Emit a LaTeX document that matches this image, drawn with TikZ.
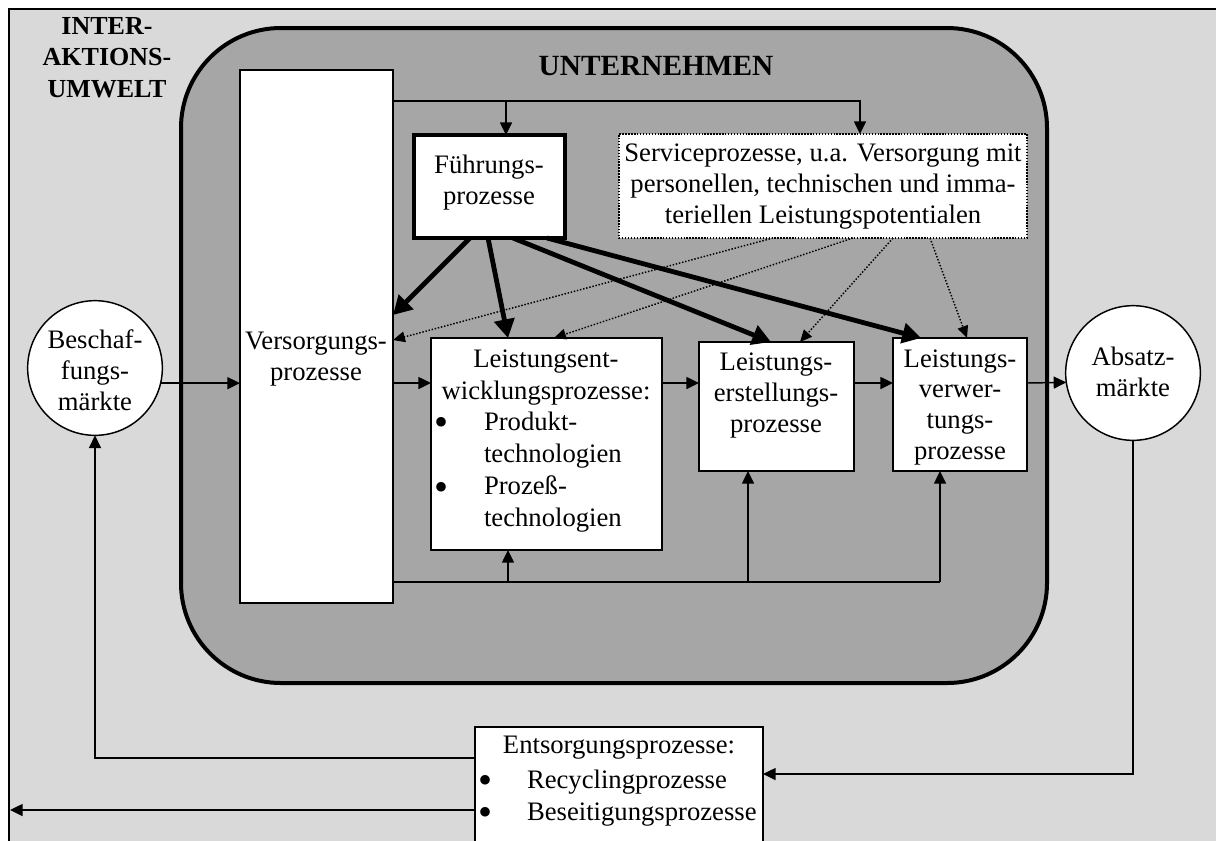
\documentclass[tikz,border=0pt]{standalone}
\usepackage{fontspec}
\setmainfont{Liberation Serif}
\usetikzlibrary{arrows.meta,fit}
\definecolor{envgray}{gray}{0.85}
\definecolor{firmgray}{gray}{0.65}

\begin{document}
\begin{tikzpicture}[x=0.75pt,y=-0.75pt,
  every node/.style={inner sep=0pt, outer sep=0pt},
  % multi-line texts are placed by the baseline of their last line
  txt/.style={font=\fontsize{20}{23}\selectfont, align=center, anchor=base},
  listtxt/.style={font=\fontsize{20}{24}\selectfont, align=left, anchor=base west},
  bullet/.style={font=\fontsize{30}{24}\selectfont, align=center, anchor=base},
  title/.style={font=\bfseries\fontsize{19.5}{23.5}\selectfont, align=center, anchor=base},
  box/.style={draw, fill=white, line width=1.1pt},
  plain/.style={line width=1.1pt},
  conn/.style={line width=1.1pt, -{Triangle[length=9.5pt,width=9pt]}},
  boldarr/.style={line width=3.6pt, -{Triangle[length=14pt,width=15pt]}},
  dotarr/.style={line width=1.1pt, dash pattern=on 1.1pt off 1.3pt, -{Triangle[length=9pt,width=8pt]}},
]
\useasboundingbox (0,0) rectangle (1216,840);
\clip (0,0) rectangle (1216,840);

% environment frame
\path[fill=envgray, draw=black, line width=1.5pt] (8.5,8.5) rectangle (1240,870);
\node[title] (env) at (107,97) {INTER-\\AKTIONS-\\UMWELT};

% company
\path[fill=firmgray, draw=black, line width=3pt, rounded corners=75pt] (181,28) rectangle (1047,683);
\node[title, font=\bfseries\fontsize{22}{26}\selectfont] (firm) at (656,75) {UNTERNEHMEN};

% process boxes
\node[box, fit={(240,70) (393,603)}] (vsg) {};
\node[txt] at (316,380) {Versorgungs-\\prozesse};

\node[box, line width=3.2pt, fit={(414,135) (565,238)}] (fhr) {};
\node[txt] at (489,204) {Führungs-\\prozesse};

\node[box, dash pattern=on 1.1pt off 1.1pt, fit={(619,134) (1027,238)}] (svc) {};
\node[txt] at (823,223) {Serviceprozesse, u.a. Versorgung mit\\personellen, technischen und imma-\\teriellen Leistungspotentialen};

\node[box, fit={(431,338) (662,550)}] (ent) {};
\node[txt, font=\fontsize{20}{24}\selectfont] at (546,399) {Leistungsent-\\wicklungsprozesse:};
\node[bullet] at (441,435) {•};
\node[bullet] at (441,500) {•};
\node[listtxt] at (484,526) {Produkt-\\technologien\\Prozeß-\\technologien};

\node[box, fit={(699,342) (854,471)}] (ers) {};
\node[txt] at (776,432) {Leistungs-\\erstellungs-\\prozesse};

\node[box, fit={(893,338) (1027,471)}] (vwt) {};
\node[txt] at (960,459) {Leistungs-\\verwer-\\tungs-\\prozesse};

% markets
\node[draw, fill=white, circle, line width=1.1pt, minimum size=101pt] (bes) at (95,368) {};
\node[txt] at (95,410) {Beschaf-\\fungs-\\märkte};
\node[draw, fill=white, circle, line width=1.1pt, minimum size=101pt] (abs) at (1133,373) {};
\node[txt] at (1133,396) {Absatz-\\märkte};

% disposal
\node[box, fit={(475,727) (763,870)}] (dis) {};
\node[txt] at (619,753) {Entsorgungsprozesse:};
\node[bullet] at (485,825) {•\\•};
\node[listtxt] at (527,820) {Recyclingprozesse\\Beseitigungsprozesse};

% supply distribution at the top
\coordinate (topR) at (860,101);
\coordinate (topF) at (506,101);
\draw[conn] (vsg.east |- topR) -| (svc.north -| topR);
\draw[conn] (topF) -- (fhr.north -| topF);

% management arrows
\draw[boldarr] (fhr.south -| 470,0) -- (vsg.east |- 0,315);
\draw[boldarr] (fhr.south -| 488,0) -- (ent.north -| 508,0);
\draw[boldarr] (fhr.south -| 513,0) -- (ers.north -| 771,0);
\draw[boldarr] (fhr.south -| 547,0) -- (vwt.north -| 921,0);

% service arrows
\draw[dotarr] (svc.south -| 773,0) -- (vsg.east |- 0,340);
\draw[dotarr] (svc.south -| 853,0) -- (ent.north -| 554,0);
\draw[dotarr] (svc.south -| 893,0) -- (ers.north -| 800,0);
\draw[dotarr] (svc.south -| 930,0) -- (vwt.north -| 967,0);

% main flow
\draw[conn] (bes.-13) -- (vsg.west |- bes.-13);
\draw[conn] (vsg.east |- 0,383) -- (ent.west |- 0,383);
\draw[conn] (ent.east |- 0,383) -- (ers.west |- 0,383);
\draw[conn] (ers.east |- 0,383) -- (vwt.west |- 0,383);
\draw[conn] (vwt.east |- 0,383) -- (abs.188);

% supply line at the bottom
\coordinate (b1) at (508,582);
\coordinate (b2) at (748,582);
\coordinate (b3) at (940,582);
\draw[plain] (vsg.east |- b1) -- (b3);
\draw[conn] (b1) -- (ent.south -| b1);
\draw[conn] (b2) -- (ers.south -| b2);
\draw[conn] (b3) -- (vwt.south -| b3);

% return flows
\coordinate (outL) at (10,810);
\draw[conn] (abs.south) |- (dis.east |- 0,774);
\draw[conn] (dis.west |- 0,758) -| (bes.south);
\draw[conn] (dis.west |- outL) -- (outL);
\end{tikzpicture}
\end{document}
